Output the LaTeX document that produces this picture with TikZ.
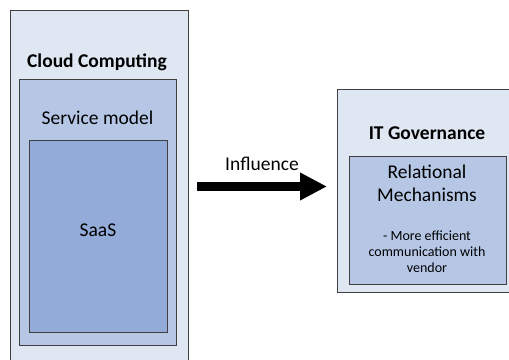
\documentclass[tikz,border=0pt]{standalone}
\usepackage{fontspec}
\setmainfont{Carlito}
\usetikzlibrary{arrows.meta}
\definecolor{lightfill}{HTML}{DEE7F2}
\definecolor{midfill}{HTML}{B6C7E6}
\definecolor{darkfill}{HTML}{93ABD9}
\definecolor{edge}{HTML}{3F3F3F}
\tikzset{
  box/.style={draw=edge, line width=1.2pt, anchor=north west, inner sep=0pt},
  big/.style={font=\fontsize{19.5}{22.7}\selectfont, align=center, inner sep=0pt},
  bigb/.style={font=\fontsize{19.5}{22.7}\selectfont\bfseries, align=center, inner sep=0pt},
  small/.style={font=\fontsize{14}{16}\selectfont, align=center, inner sep=0pt},
}
\begin{document}
\begin{tikzpicture}[x=1pt,y=-1pt]
\useasboundingbox (0,0) rectangle (509,359);
% left group
\node[box, fill=lightfill, minimum width=178pt, minimum height=370pt] (cc) at (10,10) {};
\node[box, fill=midfill, minimum width=157pt, minimum height=266pt] (sm) at (19,79) {};
\node[box, fill=darkfill, minimum width=138pt, minimum height=192pt] (saas) at (29,140) {};
\node[bigb, anchor=base] (cct) at (97,67) {Cloud Computing};
\node[big, anchor=base] (smt) at (97.5,124) {Service model};
\node[big, anchor=base] (saast) at (98,236) {SaaS};
% right group
\node[box, fill=lightfill, minimum width=190pt, minimum height=203pt] (itg) at (337,89) {};
\node[box, fill=midfill, minimum width=157pt, minimum height=128pt] (rm) at (349,156) {};
\node[bigb, anchor=base] (itgt) at (427,139) {IT Governance};
\node[big, anchor=base] (rmt) at (427,201.5) {Relational\\Mechanisms};
\node[small, anchor=base] (rmd) at (427,272) {- More efficient\\communication with\\vendor};
% arrow
\coordinate (a1) at (197,186.5);
\coordinate (a2) at (327,186.5);
\draw[line width=9pt, -{Triangle[width=26pt,length=27pt]}] (a1) -- (a2);
\node[big, anchor=base] (inf) at (262,170) {Influence};
\end{tikzpicture}
\end{document}
